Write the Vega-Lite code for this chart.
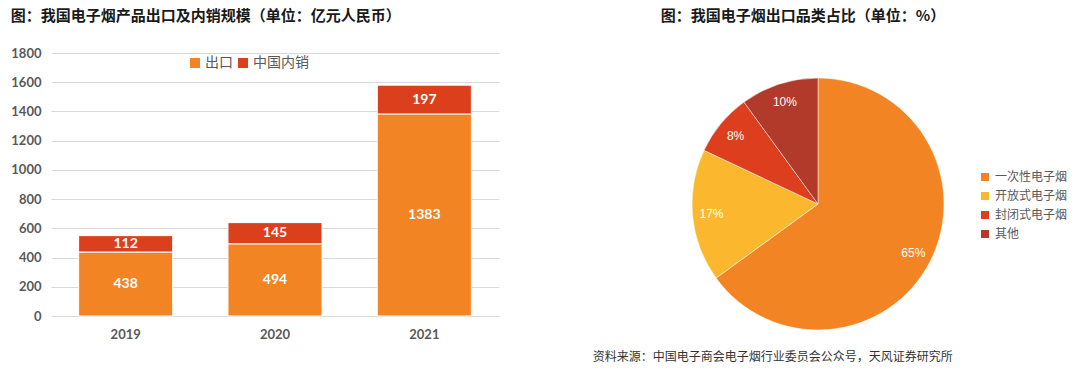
{
  "$schema": "https://vega.github.io/schema/vega-lite/v6.json",
  "padding": {"left": 10, "top": 9, "right": 0, "bottom": 0},
  "background": "white",
  "config": {"font": "Noto Sans CJK SC", "view": {"stroke": null}},
  "title": {"text": "资料来源：中国电子商会电子烟行业委员会公众号，天风证券研究所", "orient": "bottom", "anchor": "start", "dx": 582, "dy": -3, "fontSize": 12, "fontWeight": "normal", "color": "#333333", "offset": 0},
  "spacing": 161,
  "resolve": {"scale": {"color": "independent"}, "legend": {"color": "independent"}},
  "hconcat": [
    {
      "width": 448,
      "height": 263,
      "title": {"text": "图：我国电子烟产品出口及内销规模（单位：亿元人民币）", "anchor": "start", "frame": "bounds", "fontSize": 15, "fontWeight": "bold", "color": "#1a1a1a", "offset": 23},
      "data": {"values": [
        {"year": "2019", "type": "出口", "value": 438},
        {"year": "2019", "type": "中国内销", "value": 112},
        {"year": "2020", "type": "出口", "value": 494},
        {"year": "2020", "type": "中国内销", "value": 145},
        {"year": "2021", "type": "出口", "value": 1383},
        {"year": "2021", "type": "中国内销", "value": 197}
      ]},
      "transform": [
        {"stack": "value", "groupby": ["year"], "sort": [{"field": "type", "order": "descending"}], "as": ["v0", "v1"]},
        {"calculate": "(datum.v0 + datum.v1) / 2", "as": "mid"}
      ],
      "layer": [
        {
          "mark": {"type": "bar", "stroke": "#ffffff", "strokeWidth": 1},
          "encoding": {
            "x": {"field": "year", "type": "nominal", "scale": {"paddingInner": 0.37, "paddingOuter": 0.185},
              "axis": {"title": null, "labelAngle": 0, "domain": true, "domainColor": "#D9D9D9", "ticks": false, "labelPadding": 12, "labelFont": "Lato", "labelFontWeight": "bold", "labelFontSize": 13, "labelColor": "#595959"}},
            "y": {"field": "v0", "type": "quantitative", "scale": {"domain": [0, 1800]},
              "axis": {"title": null, "values": [0, 200, 400, 600, 800, 1000, 1200, 1400, 1600, 1800], "format": "d", "labelOverlap": false, "domain": false, "ticks": false, "labelPadding": 10, "labelFont": "Lato", "labelFontWeight": "bold", "labelFontSize": 13, "labelColor": "#595959", "gridColor": "#D9D9D9", "gridWidth": 1}},
            "y2": {"field": "v1"},
            "color": {"field": "type", "type": "nominal", "scale": {"domain": ["出口", "中国内销"], "range": ["#F28424", "#DC3F1C"]},
              "legend": {"title": null, "orient": "none", "legendX": 137, "legendY": 3, "direction": "horizontal", "symbolType": "square", "symbolSize": 100, "symbolStrokeWidth": 0, "labelFontSize": 14, "labelColor": "#595959", "columnPadding": 3, "labelOffset": 3}}
          }
        },
        {
          "mark": {"type": "text", "color": "#ffffff", "fontWeight": "bold", "fontSize": 14, "font": "Lato", "baseline": "middle"},
          "encoding": {
            "x": {"field": "year", "type": "nominal"},
            "y": {"field": "mid", "type": "quantitative",
              "axis": {"title": null, "values": [0, 200, 400, 600, 800, 1000, 1200, 1400, 1600, 1800], "format": "d", "labelOverlap": false, "domain": false, "ticks": false, "labelPadding": 10, "labelFont": "Lato", "labelFontWeight": "bold", "labelFontSize": 13, "labelColor": "#595959", "gridColor": "#D9D9D9", "gridWidth": 1}},
            "text": {"field": "value", "type": "quantitative"}
          }
        }
      ]
    },
    {
      "width": 252,
      "height": 302,
      "title": {"text": "图：我国电子烟出口品类占比（单位：%）", "anchor": "middle", "fontSize": 15, "fontWeight": "bold", "color": "#1a1a1a", "offset": 29, "dx": -15},
      "data": {"values": [
        {"cat": "一次性电子烟", "value": 0.65, "idx": 1},
        {"cat": "开放式电子烟", "value": 0.17, "idx": 2},
        {"cat": "封闭式电子烟", "value": 0.08, "idx": 3},
        {"cat": "其他", "value": 0.10, "idx": 4}
      ]},
      "layer": [
        {
          "mark": {"type": "arc", "outerRadius": 126, "stroke": "#ffffff", "strokeWidth": 0.5},
          "encoding": {
            "theta": {"field": "value", "type": "quantitative", "stack": true},
            "order": {"field": "idx", "type": "quantitative"},
            "color": {"field": "cat", "type": "nominal", "scale": {"domain": ["一次性电子烟", "开放式电子烟", "封闭式电子烟", "其他"], "range": ["#F28424", "#FBB82E", "#DD3E1D", "#B13A2B"]},
              "legend": {"title": null, "orient": "none", "legendX": 287, "legendY": 118, "symbolType": "square", "symbolSize": 64, "symbolStrokeWidth": 0, "labelFontSize": 12, "labelColor": "#595959", "rowPadding": 7, "labelOffset": 4}}
          }
        },
        {
          "mark": {"type": "text", "radius": 107, "color": "#ffffff", "fontSize": 12, "font": "Liberation Sans"},
          "encoding": {
            "theta": {"field": "value", "type": "quantitative", "stack": true},
            "order": {"field": "idx", "type": "quantitative"},
            "text": {"field": "value", "type": "quantitative", "format": ".0%"}
          }
        }
      ]
    }
  ]
}
